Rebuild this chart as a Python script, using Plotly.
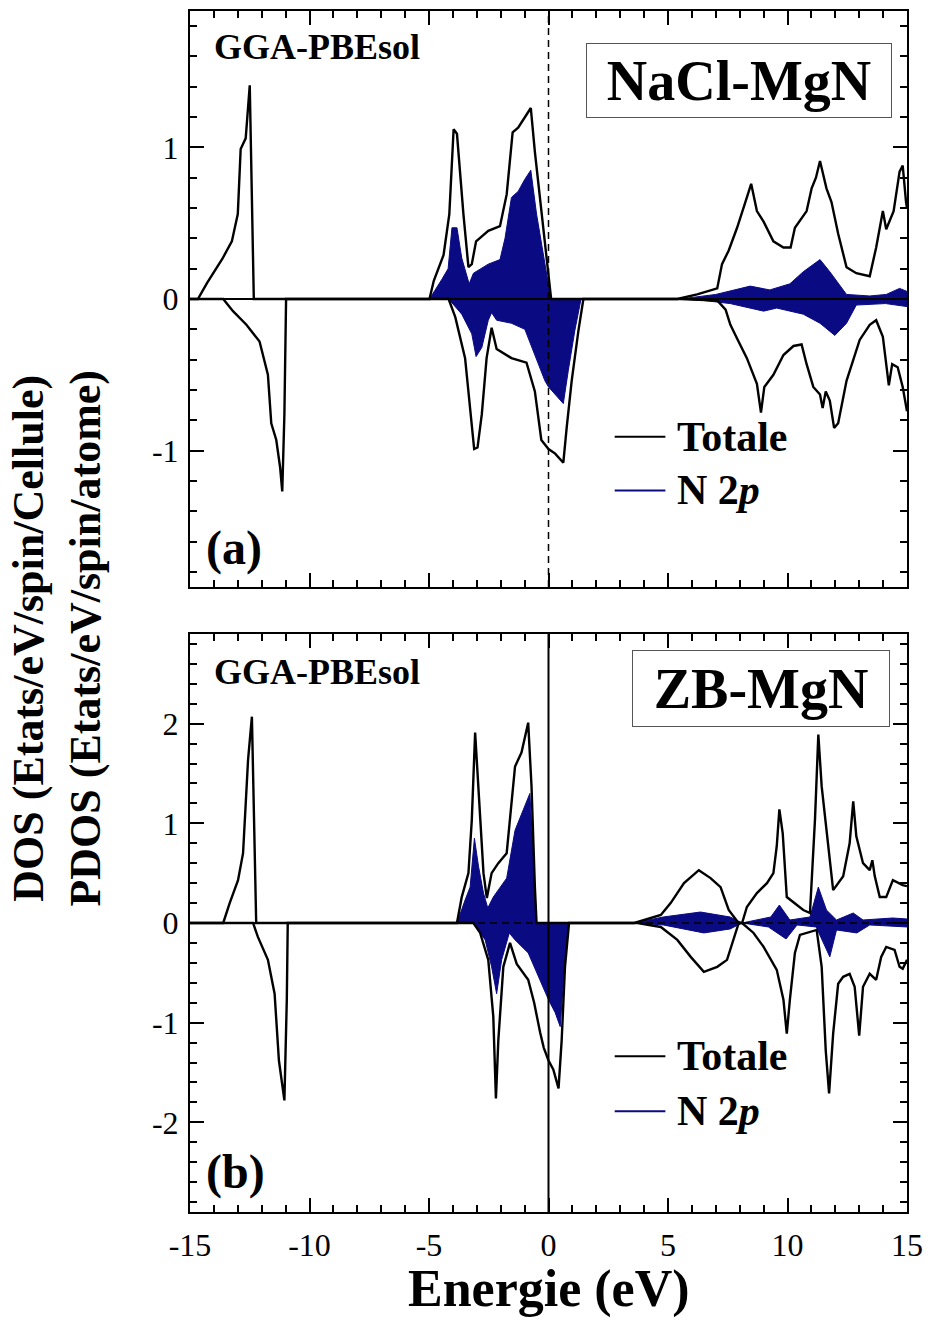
import plotly.graph_objects as go

# ---------------- data ----------------
# Panel (a) NaCl-MgN
a_tot_up_E = [-15, -14.67, -14.29, -13.63, -13.25, -13.0, -12.88, -12.67, -12.5, -12.33,
              -4.98, -4.8, -4.39, -4.15, -3.97, -3.83, -3.56, -3.35, -3.21, -3.03, -2.52, -2.03,
              -1.75, -1.5, -1.27, -0.99, -0.74, -0.57, -0.36, -0.16, 0.0, 0.11,
              5.39, 6.22, 7.06, 7.26, 7.54, 7.89, 8.24, 8.48, 8.72, 9.0, 9.41, 9.83, 10.13, 10.31,
              10.8, 11.01, 11.19, 11.36, 11.63, 11.84, 12.12, 12.47, 12.88, 13.44, 13.71, 13.99,
              14.13, 14.44, 14.69, 14.82, 14.96, 15]
a_tot_up = [0, 0, 0.105, 0.27, 0.38, 0.56, 0.99, 1.06, 1.41, 0,
            0, 0.12, 0.29, 0.56, 1.12, 1.09, 0.56, 0.21, 0.23, 0.38, 0.45, 0.48,
            0.69, 1.10, 1.13, 1.20, 1.26, 0.97, 0.67, 0.38, 0.16, 0,
            0, 0.03, 0.07, 0.23, 0.32, 0.47, 0.64, 0.76, 0.58, 0.51, 0.38, 0.34, 0.34, 0.47,
            0.58, 0.73, 0.80, 0.91, 0.73, 0.64, 0.43, 0.21, 0.17, 0.15, 0.34, 0.58,
            0.46, 0.58, 0.84, 0.88, 0.64, 0.6]

a_tot_dn_E = [-15, -13.61, -13.2, -12.64, -12.09, -11.74, -11.6, -11.39, -11.23, -11.14, -11.05, -10.98,
              -4.18, -3.9, -3.49, -3.24, -3.11, -2.97, -2.79, -2.59, -2.38, -2.17, -1.55, -0.92,
              -0.57, -0.3, 0.0, 0.28, 0.62, 0.76, 0.97, 1.25, 1.46,
              5.53, 7.06, 7.41, 7.61, 7.89, 8.3, 8.72, 8.89, 9.03, 9.41, 9.83, 10.25, 10.59, 10.8,
              11.08, 11.36, 11.47, 11.6, 11.77, 11.95, 12.12, 12.47, 13.02, 13.44, 13.71, 13.99,
              14.24, 14.38, 14.61, 14.82, 15]
a_tot_dn = [0, 0, -0.08, -0.17, -0.28, -0.5, -0.82, -0.93, -1.11, -1.27, -0.76, 0,
            0, -0.12, -0.39, -0.76, -0.99, -0.98, -0.76, -0.39, -0.19, -0.33, -0.39, -0.42,
            -0.61, -0.93, -0.99, -1.02, -1.08, -0.85, -0.54, -0.21, 0,
            0, -0.01, -0.07, -0.17, -0.26, -0.39, -0.56, -0.75, -0.58, -0.5, -0.37, -0.31, -0.3, -0.43,
            -0.58, -0.63, -0.72, -0.61, -0.67, -0.85, -0.82, -0.54, -0.27, -0.17, -0.14, -0.25,
            -0.57, -0.43, -0.45, -0.58, -0.74]

a_n2p_up_E = [-15, -4.98, -4.46, -4.2, -4.04, -3.83, -3.63, -3.32, -3.14, -2.52, -2.03, -1.82,
              -1.55, -1.27, -0.99, -0.74, -0.5, -0.21, 0.0, 0.1,
              5.5, 7.0, 8.44, 9.26, 10.1, 10.66, 11.36, 11.77, 12.47, 13.44, 14.13, 14.69, 15]
a_n2p_up = [0, 0, 0.13, 0.2, 0.47, 0.47, 0.27, 0.1, 0.17, 0.23, 0.26, 0.40,
            0.67, 0.71, 0.79, 0.85, 0.56, 0.29, 0.1, 0,
            0, 0.03, 0.085, 0.06, 0.1, 0.18, 0.26, 0.18, 0.03, 0.02, 0.03, 0.07, 0.05]

a_n2p_dn_E = [-15, -4.18, -3.63, -3.21, -3.03, -2.79, -2.52, -2.38, -2.17, -1.55, -0.99, -0.43,
              -0.15, 0.0, 0.42, 0.62, 0.83, 1.1, 1.36,
              5.5, 6.5, 7.6, 9.0, 9.55, 10.66, 11.36, 11.98, 12.47, 12.88, 14.1, 15]
a_n2p_dn = [0, 0, -0.1, -0.23, -0.38, -0.32, -0.14, -0.09, -0.14, -0.16, -0.2, -0.43,
            -0.54, -0.58, -0.65, -0.69, -0.47, -0.21, 0,
            0, -0.01, -0.03, -0.08, -0.06, -0.1, -0.16, -0.24, -0.16, -0.04, -0.03, -0.05]

# Panel (b) ZB-MgN
b_tot_up_E = [-15, -13.61, -13.34, -12.99, -12.78, -12.57, -12.41, -12.3, -12.23,
              -3.83, -3.63, -3.35, -3.21, -3.07, -2.93, -2.72, -2.58, -2.38, -2.1, -1.75, -1.4,
              -1.13, -0.85, -0.71, -0.57, -0.5,
              3.59, 4.7, 5.11, 5.67, 6.29, 6.78, 7.2, 7.54, 7.95, 8.1, 8.3, 8.72, 9.14, 9.41, 9.55,
              9.66, 9.8, 9.97, 10.66, 10.94, 11.15, 11.29, 11.43, 11.77, 11.91, 12.33, 12.6, 12.75,
              12.88, 13.16, 13.44, 13.55, 13.65, 13.86, 14.13, 14.41, 14.82, 15]
b_tot_up = [0, 0, 0.2, 0.43, 0.7, 1.64, 2.07, 0.7, 0,
            0, 0.26, 0.5, 1.03, 1.91, 1.37, 0.5, 0.25, 0.5, 0.6, 0.7, 1.57,
            1.71, 2.01, 1.37, 0.36, 0,
            0, 0.08, 0.2, 0.4, 0.53, 0.45, 0.36, 0.13, 0, 0, 0.16, 0.3, 0.4, 0.5, 0.77,
            1.14, 0.9, 0.26, 0.13, 0.1, 1.04, 1.89, 1.37, 0.6, 0.33, 0.47, 0.8, 1.22,
            0.87, 0.6, 0.53, 0.63, 0.47, 0.26, 0.26, 0.43, 0.38, 0.37]

b_tot_dn_E = [-15, -12.36, -12.16, -11.74, -11.46, -11.28, -11.05, -10.95, -10.91,
              -3.14, -2.86, -2.52, -2.31, -2.2, -2.1, -1.89, -1.61, -1.33, -0.85, -0.6, -0.35,
              -0.2, 0.0, 0.2, 0.42, 0.55, 0.69, 0.86,
              3.73, 4.7, 5.39, 5.95, 6.5, 7.06, 7.47, 7.75, 7.96, 8.1, 8.58, 9.0, 9.55, 9.83,
              9.97, 10.1, 10.31, 10.52, 10.94, 11.22, 11.43, 11.6, 11.74, 11.91, 12.12, 12.33,
              12.6, 12.81, 13.0, 13.16, 13.44, 13.71, 13.92, 14.13, 14.48, 14.69, 14.82, 15]
b_tot_dn = [0, 0, -0.14, -0.37, -0.71, -1.38, -1.78, -0.77, 0,
            0, -0.1, -0.37, -0.94, -1.76, -1.18, -0.44, -0.2, -0.41, -0.57, -0.8, -1.1,
            -1.25, -1.38, -1.47, -1.66, -1.18, -0.44, 0,
            0, -0.04, -0.17, -0.34, -0.49, -0.44, -0.37, -0.17, 0, 0, -0.1, -0.24, -0.47, -0.77,
            -1.11, -0.77, -0.3, -0.12, -0.09, -0.07, -0.44, -1.28, -1.71, -1.11, -0.61, -0.54,
            -0.51, -0.64, -1.13, -0.64, -0.51, -0.57, -0.34, -0.24, -0.27, -0.44, -0.46, -0.37]

b_n2p_up_E = [-15, -3.83, -3.49, -3.28, -3.1, -2.93, -2.72, -2.54, -2.31, -1.75, -1.4, -0.99,
              -0.78, -0.64, -0.5,
              3.59, 4.8, 6.36, 7.6, 8.1, 9.3, 9.66, 10.1, 10.94, 11.29, 11.63, 12.05, 12.75,
              13.16, 14.4, 15]
b_n2p_up = [0, 0, 0.23, 0.36, 0.85, 0.57, 0.3, 0.15, 0.26, 0.45, 0.93, 1.17,
            1.3, 0.7, 0,
            0, 0.06, 0.11, 0.06, 0.0, 0.06, 0.18, 0.03, 0.06, 0.36, 0.13, 0.03, 0.1,
            0.03, 0.05, 0.04]

b_n2p_dn_E = [-15, -3.14, -2.65, -2.38, -2.17, -1.96, -1.64, -1.4, -0.85, -0.43, 0.0, 0.28,
              0.49, 0.62, 0.83,
              3.73, 4.8, 6.5, 7.6, 8.1, 9.2, 9.94, 10.4, 11.2, 11.77, 12.05, 12.9, 13.44, 15]
b_n2p_dn = [0, 0, -0.17, -0.44, -0.71, -0.37, -0.1, -0.17, -0.3, -0.54, -0.77, -0.9,
            -1.04, -0.6, 0,
            0, -0.02, -0.1, -0.06, 0, -0.04, -0.16, -0.02, -0.04, -0.34, -0.07, -0.1, -0.02, -0.04]

x_ticks = [-15, -10, -5, 0, 5, 10, 15]
x_ticktext = ['-15', '-10', '-5', '0', '5', '10', '15']
ya_ticks = [-1, 0, 1]
ya_ticktext = ['-1', '0', '1']
yb_ticks = [-2, -1, 0, 1, 2]
yb_ticktext = ['-2', '-1', '0', '1', '2']

# ---------------- figure ----------------
NAVY = '#0a0a82'
FONT = 'Liberation Serif, Times New Roman, serif'

fig = go.Figure()


def add_fill(x, y, xa, ya):
    fig.add_trace(go.Scatter(x=x, y=y, xaxis=xa, yaxis=ya, mode='lines', fill='tozeroy',
                             fillcolor=NAVY, line=dict(color=NAVY, width=1),
                             showlegend=False, hoverinfo='skip'))


def add_line(x, y, xa, ya):
    fig.add_trace(go.Scatter(x=x, y=y, xaxis=xa, yaxis=ya, mode='lines',
                             line=dict(color='black', width=2.4),
                             showlegend=False, hoverinfo='skip'))


add_fill(a_n2p_up_E, a_n2p_up, 'x', 'y')
add_fill(a_n2p_dn_E, a_n2p_dn, 'x', 'y')
add_line(a_tot_up_E, a_tot_up, 'x', 'y')
add_line(a_tot_dn_E, a_tot_dn, 'x', 'y')

add_fill(b_n2p_up_E, b_n2p_up, 'x2', 'y2')
add_fill(b_n2p_dn_E, b_n2p_dn, 'x2', 'y2')
add_line(b_tot_up_E, b_tot_up, 'x2', 'y2')
add_line(b_tot_dn_E, b_tot_dn, 'x2', 'y2')

tickfont = dict(family=FONT, size=32, color='black')
common = dict(showline=True, linecolor='black', linewidth=2, mirror='allticks',
              ticks='inside', ticklen=14, tickwidth=2, tickcolor='black',
              showgrid=False, zeroline=False, tickfont=tickfont, fixedrange=True)
minor_x = dict(tickmode='linear', tick0=0, dtick=1, ticks='inside', ticklen=7,
               tickwidth=2, tickcolor='black')
minor_y = dict(tickmode='linear', tick0=0, dtick=0.2, ticks='inside', ticklen=7,
               tickwidth=2, tickcolor='black')

fig.update_layout(
    width=932, height=1324,
    margin=dict(l=190, r=21, t=9, b=112),
    paper_bgcolor='white', plot_bgcolor='white',
    showlegend=False,
    xaxis=dict(domain=[0, 1], anchor='y', range=[-15, 15], tickmode='array',
               tickvals=x_ticks, ticktext=x_ticktext, showticklabels=False,
               minor=minor_x, **common),
    yaxis=dict(domain=[0.5204, 1], anchor='x', range=[-1.9, 1.9], tickmode='array',
               tickvals=ya_ticks, ticktext=ya_ticktext, ticklabelstandoff=3,
               minor=minor_y, **common),
    xaxis2=dict(domain=[0, 1], anchor='y2', range=[-15, 15], tickmode='array',
                tickvals=x_ticks, ticktext=x_ticktext, ticklabelstandoff=4,
                minor=minor_x, **common),
    yaxis2=dict(domain=[0, 0.4813], anchor='x2', range=[-2.9, 2.9], tickmode='array',
                tickvals=yb_ticks, ticktext=yb_ticktext, ticklabelstandoff=3,
                minor=minor_y, **common),
)

shapes = [
    # Fermi level / zero lines
    dict(type='line', xref='x', yref='y domain', x0=0, x1=0, y0=0, y1=1,
         line=dict(color='black', width=1.5, dash='7px,5px')),
    dict(type='line', xref='x domain', yref='y', x0=0, x1=1, y0=0, y1=0,
         line=dict(color='black', width=2)),
    dict(type='line', xref='x2', yref='y2 domain', x0=0, x1=0, y0=0, y1=1,
         line=dict(color='black', width=2)),
    dict(type='line', xref='x2 domain', yref='y2', x0=0, x1=1, y0=0, y1=0,
         line=dict(color='black', width=1.5, dash='7px,5px')),
    # legend samples
    dict(type='line', xref='x', yref='y', x0=2.77, x1=4.89, y0=-0.908, y1=-0.908,
         line=dict(color='black', width=2)),
    dict(type='line', xref='x', yref='y', x0=2.77, x1=4.89, y0=-1.263, y1=-1.263,
         line=dict(color=NAVY, width=2)),
    dict(type='line', xref='x2', yref='y2', x0=2.77, x1=4.89, y0=-1.337, y1=-1.337,
         line=dict(color='black', width=2)),
    dict(type='line', xref='x2', yref='y2', x0=2.77, x1=4.89, y0=-1.89, y1=-1.89,
         line=dict(color=NAVY, width=2)),
]
fig.update_layout(shapes=shapes)


def ann(text, x, y, xref, yref, size, xanchor='left', yanchor='middle', **kw):
    fig.add_annotation(text=text, x=x, y=y, xref=xref, yref=yref, showarrow=False,
                       xanchor=xanchor, yanchor=yanchor,
                       font=dict(family=FONT, size=size, color='black'), **kw)


# panel (a)
ann('<b>GGA-PBEsol</b>', -14.08, 1.66, 'x', 'y', 36)
ann('<b>NaCl-MgN</b>', 7.97, 1.444, 'x', 'y', 56, xanchor='center',
    bordercolor='#555555', borderwidth=1, borderpad=0, width=304, height=73, bgcolor='white')
ann('<b>(a)</b>', -14.42, -1.64, 'x', 'y', 48)
ann('<b>Totale</b>', 5.31, -0.908, 'x', 'y', 42)
ann('<b>N 2<i>p</i></b>', 5.31, -1.263, 'x', 'y', 42)

# panel (b)
ann('<b>GGA-PBEsol</b>', -14.08, 2.52, 'x2', 'y2', 36)
ann('<b>ZB-MgN</b>', 8.89, 2.35, 'x2', 'y2', 56, xanchor='center',
    bordercolor='#555555', borderwidth=1, borderpad=0, width=256, height=75, bgcolor='white')
ann('<b>(b)</b>', -14.42, -2.50, 'x2', 'y2', 48)
ann('<b>Totale</b>', 5.31, -1.337, 'x2', 'y2', 42)
ann('<b>N 2<i>p</i></b>', 5.31, -1.89, 'x2', 'y2', 42)

# axis titles
ann('<b>Energie (eV)</b>', 0.5, (1212 - 1289) / 1203, 'paper', 'paper', 52, xanchor='center')
ann('<b>DOS (Etats/eV/spin/Cellule)</b><br><b>PDOS (Etats/eV/spin/atome)</b>',
    -0.186, 0.478, 'paper', 'paper', 44, xanchor='center', textangle=-90)

fig.write_html('out.html')
